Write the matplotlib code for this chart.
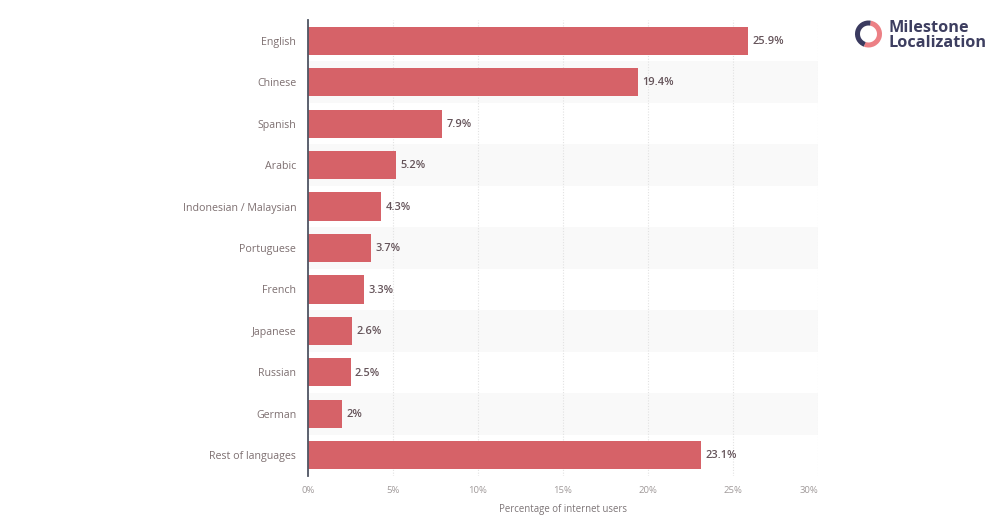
import matplotlib
matplotlib.use("Agg")
import matplotlib.pyplot as plt
import matplotlib.patches as patches

languages = ["English", "Chinese", "Spanish", "Arabic", "Indonesian / Malaysian", "Portuguese",
             "French", "Japanese", "Russian", "German", "Rest of languages"]
shares = [25.9, 19.4, 7.9, 5.2, 4.3, 3.7, 3.3, 2.6, 2.5, 2, 23.1]
share_labels = ["25.9%", "19.4%", "7.9%", "5.2%", "4.3%", "3.7%", "3.3%", "2.6%", "2.5%", "2%", "23.1%"]
x_ticks = [0, 5, 10, 15, 20, 25, 30]
x_tick_labels = ["0%", "5%", "10%", "15%", "20%", "25%", "30%"]

W, H = 1000, 524
plt.rcParams['font.family'] = ['Open Sans', 'DejaVu Sans']

fig = plt.figure(figsize=(10, 5.24), dpi=100)
# axes placed in pixels: 0% at x=308, 30% at x=818, rows from y=20 to y=476
ax = fig.add_axes([308 / W, 1 - 476 / H, 510 / W, 456 / H])
ax.set_xlim(0, 30)
ax.set_ylim(len(languages) - 0.5, -0.5)

# grey band behind every second row
for i in range(1, len(languages), 2):
    ax.axhspan(i - 0.5, i + 0.5, color='#f9f9f9', lw=0, zorder=0)

ax.barh(range(len(languages)), shares, height=0.68, color='#d66268', linewidth=0, zorder=3)

for i, (v, lab) in enumerate(zip(shares, share_labels)):
    ax.annotate(lab, (v, i), xytext=(3.2, -0.5), textcoords='offset points', ha='left', va='center',
                fontsize=7.9, fontweight='semibold', color='#65545a', zorder=4)

ax.set_yticks(range(len(languages)))
ax.set_yticklabels(languages, fontsize=7.7, color='#7d6f70')
ax.tick_params(axis='y', length=0, pad=8.5)

ax.set_xticks(x_ticks)
ax.set_xticklabels(x_tick_labels, fontsize=6.8, color='#a09a9a')
ax.tick_params(axis='x', length=0, pad=7.5)
ax.get_xticklabels()[-1].set_ha('right')
ax.set_xlabel("Percentage of internet users", fontsize=6.9, color='#7d7577')
ax.xaxis.set_label_coords(0.5, -0.062)

ax.grid(axis='x', color='#e2e2e2', linestyle=(0, (1, 1.5)), linewidth=0.8, zorder=1)
ax.set_axisbelow(True)
for side in ['top', 'right', 'bottom']:
    ax.spines[side].set_visible(False)
ax.spines['left'].set_color('#4f5563')
ax.spines['left'].set_linewidth(1.3)
ax.spines['left'].set_zorder(5)

# logo, drawn in pixel coordinates (y runs downward here)
logo = fig.add_axes([0, 0, 1, 1], facecolor='none')
logo.set_xlim(0, W)
logo.set_ylim(H, 0)
logo.axis('off')
logo.add_patch(patches.Arc((868.5, 34), 22, 22, theta1=-80, theta2=110, lw=3.6, color='#ec8085'))
logo.add_patch(patches.Arc((868.5, 34), 22, 22, theta1=110, theta2=280, lw=3.6, color='#3a3a5f'))
logo.text(888, 27.5, "Milestone", fontsize=11.7, fontweight='bold', color='#3d3e60', ha='left', va='center')
logo.text(888, 43, "Localization", fontsize=11.7, fontweight='bold', color='#3d3e60', ha='left', va='center')

fig.savefig("out.png", dpi=100, facecolor='white')
